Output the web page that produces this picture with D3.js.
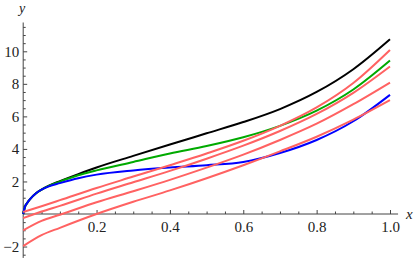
<!DOCTYPE html>
<html>
<head>
<meta charset="utf-8">
<script src="https://d3js.org/d3.v7.min.js"></script>
<style>
  body { margin: 0; background: #fff; }
  svg text { font-family: "Liberation Serif", "Times New Roman", serif; }
</style>
</head>
<body>
<div id="chart"></div>
<script>
// sample points
const xsMain = [0, 0.005, 0.01, 0.02, 0.035, 0.05, 0.07, 0.1, 0.15, 0.2, 0.3, 0.4, 0.5, 0.6, 0.7, 0.8, 0.9, 1.0];
const blackY = [0, 0.45, 0.65, 0.95, 1.28, 1.5, 1.74, 2.02, 2.45, 2.86, 3.57, 4.27, 4.96, 5.65, 6.45, 7.5, 8.9, 10.74];
const greenY = [0, 0.45, 0.65, 0.95, 1.28, 1.5, 1.73, 1.99, 2.38, 2.68, 3.2, 3.72, 4.18, 4.72, 5.42, 6.35, 7.65, 9.43];
const blueY  = [0, 0.45, 0.65, 0.95, 1.28, 1.5, 1.7, 1.9, 2.2, 2.42, 2.68, 2.86, 3.0, 3.2, 3.75, 4.55, 5.7, 7.32];

const xsRed = [0, 0.05, 0.1, 0.2, 0.3, 0.4, 0.5, 0.6, 0.7, 0.8, 0.9, 1.0];
const red1 = [0.12, 0.48, 0.85, 1.6, 2.3, 3.0, 3.72, 4.5, 5.42, 6.55, 8.05, 10.08];
const red2 = [-0.25, 0.15, 0.5, 1.25, 1.95, 2.65, 3.4, 4.2, 5.1, 6.15, 7.45, 9.07];
const red3 = [-1.0, -0.42, -0.05, 0.72, 1.4, 2.1, 2.85, 3.65, 4.55, 5.55, 6.75, 8.08];
const red4 = [-1.97, -1.3, -0.85, 0.0, 0.75, 1.45, 2.2, 3.0, 3.85, 4.75, 5.8, 7.0];

const xMajor = [0.2, 0.4, 0.6, 0.8, 1.0];
const yMajor = [-2, 2, 4, 6, 8, 10];

const width = 415, height = 260;

const svg = d3.select("#chart").append("svg")
    .attr("width", width)
    .attr("height", height);

const x = d3.scaleLinear().domain([0, 1]).range([23.2, 390]);
const y = d3.scaleLinear().domain([0, 10]).range([214, 51.3]);

const axisColor = "#444";
const serif = "Liberation Serif, Times New Roman, serif";

// minor ticks
const xMinor = d3.range(0.05, 1.03, 0.05).filter(v => !xMajor.some(m => Math.abs(m - v) < 1e-6));
const yMinor = d3.range(-2.5, 11.6, 0.5).filter(v => Math.abs(v % 2) > 1e-6);

const gx = svg.append("g").attr("transform", `translate(0,${y(0)})`);
gx.append("g").call(d3.axisBottom(x).tickValues(xMinor).tickSize(-2.5).tickFormat(""));
gx.append("g").call(d3.axisBottom(x).tickValues(xMajor).tickSize(-4).tickPadding(7)
    .tickFormat(d3.format(".1f")));
gx.selectAll(".domain").remove();
gx.append("line")
    .attr("x1", x(0)).attr("x2", x(1.022))
    .attr("stroke", axisColor);

const gy = svg.append("g").attr("transform", `translate(${x(0)},0)`);
gy.append("g").call(d3.axisLeft(y).tickValues(yMinor).tickSize(-2.5).tickFormat(""));
gy.append("g").call(d3.axisLeft(y).tickValues(yMajor).tickSize(-4).tickPadding(4)
    .tickFormat(d => d < 0 ? "\u2212" + Math.abs(d) : d));
gy.selectAll(".domain").remove();
gy.append("line")
    .attr("y1", y(-2.7)).attr("y2", y(11.77))
    .attr("stroke", axisColor);

svg.selectAll("g").attr("font-family", serif);
svg.selectAll(".tick line").attr("stroke", axisColor);
svg.selectAll(".tick text").attr("fill", "#222").attr("font-size", 15)
    .attr("font-family", serif);

svg.append("text").attr("x", 406).attr("y", 219)
    .attr("font-family", serif)
    .attr("font-style", "italic").attr("font-size", 15).attr("fill", "#222")
    .text("x");
svg.append("text").attr("x", 22).attr("y", 13).attr("text-anchor", "middle")
    .attr("font-family", serif)
    .attr("font-style", "italic").attr("font-size", 14).attr("fill", "#222")
    .text("y");

const line = d3.line()
    .x(d => x(d[0]))
    .y(d => y(d[1]))
    .curve(d3.curveMonotoneX);

const curves = [
  { xs: xsMain, ys: blackY, color: "#000" },
  { xs: xsMain, ys: greenY, color: "#00aa00" },
  { xs: xsMain, ys: blueY, color: "#0000ff" },
  { xs: xsRed, ys: red1, color: "#ff6262" },
  { xs: xsRed, ys: red2, color: "#ff6262" },
  { xs: xsRed, ys: red3, color: "#ff6262" },
  { xs: xsRed, ys: red4, color: "#ff6262" }
];

svg.append("g")
  .selectAll("path")
  .data(curves)
  .enter().append("path")
    .attr("d", c => line(c.xs.map((v, i) => [v, c.ys[i]])))
    .attr("fill", "none")
    .attr("stroke", c => c.color)
    .attr("stroke-width", 2);
</script>
</body>
</html>
